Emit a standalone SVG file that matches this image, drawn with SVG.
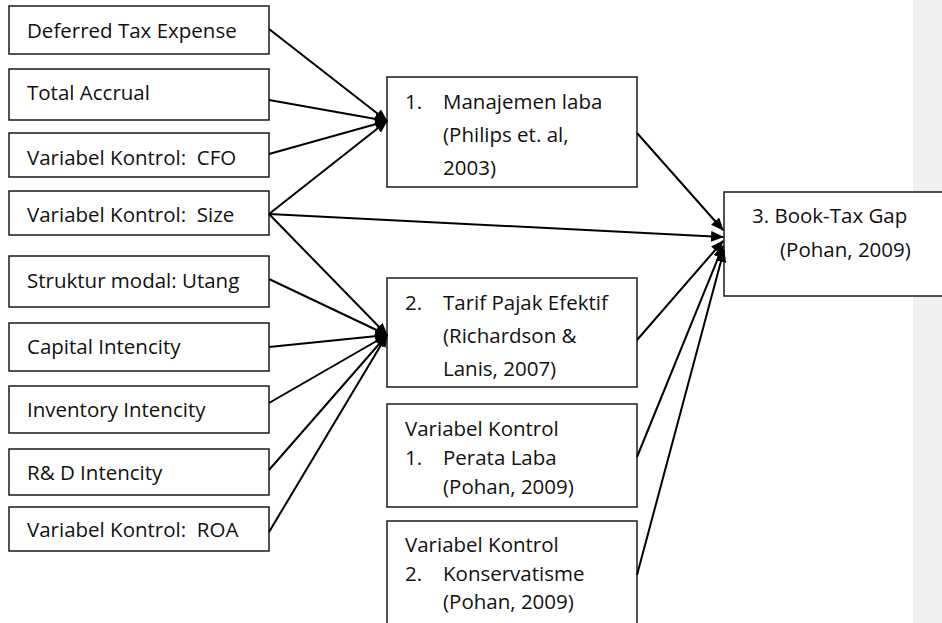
<svg xmlns="http://www.w3.org/2000/svg" width="942" height="623" viewBox="0 0 942 623">
<style>
.box{fill:#fff;stroke:#1a1a1a;stroke-width:1.5}
text{font-family:"Open Sans","Noto Sans",sans-serif;font-size:20.5px;fill:#111}
.c line{stroke:#000;stroke-width:2;marker-end:url(#ah)}
</style>
<defs>
<marker id="ah" viewBox="0 0 12 10" refX="11" refY="5" markerWidth="13" markerHeight="11" markerUnits="userSpaceOnUse" orient="auto">
<path d="M0,0 L12,5 L0,10 Z" fill="#000"/>
</marker>
</defs>
<rect x="913" y="0" width="29" height="623" fill="#f0f0f0"/>
<g id="n1"><rect class="box" x="9" y="6" width="260" height="48"/><text x="27" y="38">Deferred Tax Expense</text></g>
<g id="n2"><rect class="box" x="9" y="69" width="260" height="51"/><text x="27" y="100">Total Accrual</text></g>
<g id="n3"><rect class="box" x="9" y="133" width="260" height="44"/><text x="27" y="165" xml:space="preserve">Variabel Kontrol:  CFO</text></g>
<g id="n4"><rect class="box" x="9" y="191" width="260" height="44"/><text x="27" y="222" xml:space="preserve">Variabel Kontrol:  Size</text></g>
<g id="n5"><rect class="box" x="9" y="256" width="260" height="51"/><text x="27" y="288">Struktur modal: Utang</text></g>
<g id="n6"><rect class="box" x="9" y="323" width="260" height="48"/><text x="27" y="354">Capital Intencity</text></g>
<g id="n7"><rect class="box" x="9" y="386" width="260" height="47"/><text x="27" y="417">Inventory Intencity</text></g>
<g id="n8"><rect class="box" x="9" y="449" width="260" height="46"/><text x="27" y="480">R&amp; D Intencity</text></g>
<g id="n9"><rect class="box" x="9" y="507" width="260" height="44"/><text x="27" y="537" xml:space="preserve">Variabel Kontrol:  ROA</text></g>
<g id="m1"><rect class="box" x="387" y="77" width="250" height="110"/>
<text x="405" y="109">1.</text><text x="443" y="109">Manajemen laba</text><text x="443" y="142">(Philips et. al,</text><text x="443" y="175">2003)</text></g>
<g id="m2"><rect class="box" x="387" y="278" width="250" height="109"/>
<text x="405" y="310">2.</text><text x="443" y="310">Tarif Pajak Efektif</text><text x="443" y="343">(Richardson &amp;</text><text x="443" y="376">Lanis, 2007)</text></g>
<g id="m3"><rect class="box" x="387" y="404" width="250" height="103"/>
<text x="405" y="436">Variabel Kontrol</text><text x="405" y="465">1.</text><text x="443" y="465">Perata Laba</text><text x="443" y="494">(Pohan, 2009)</text></g>
<g id="m4"><rect class="box" x="387" y="521" width="250" height="110"/>
<text x="405" y="552">Variabel Kontrol</text><text x="405" y="581">2.</text><text x="443" y="581">Konservatisme</text><text x="443" y="609">(Pohan, 2009)</text></g>
<g id="btg"><rect class="box" x="724" y="192" width="230" height="104"/>
<text x="752" y="223">3. Book-Tax Gap</text><text x="780" y="257">(Pohan, 2009)</text></g>
<g class="c" id="connectors">
<line x1="269" y1="29" x2="387" y2="121"/>
<line x1="269" y1="100" x2="387" y2="121"/>
<line x1="269" y1="154" x2="387" y2="121"/>
<line x1="269" y1="214" x2="387" y2="121"/>
<line x1="269" y1="214" x2="387" y2="335"/>
<line x1="269" y1="214" x2="723" y2="237"/>
<line x1="269" y1="279" x2="387" y2="335"/>
<line x1="269" y1="347" x2="387" y2="335"/>
<line x1="269" y1="403" x2="387" y2="335"/>
<line x1="269" y1="470" x2="387" y2="335"/>
<line x1="269" y1="532" x2="387" y2="335"/>
<line x1="637" y1="133" x2="723" y2="230"/>
<line x1="637" y1="340" x2="723" y2="241"/>
<line x1="637" y1="457" x2="723" y2="246"/>
<line x1="637" y1="575" x2="724" y2="250"/>
</g>
</svg>
